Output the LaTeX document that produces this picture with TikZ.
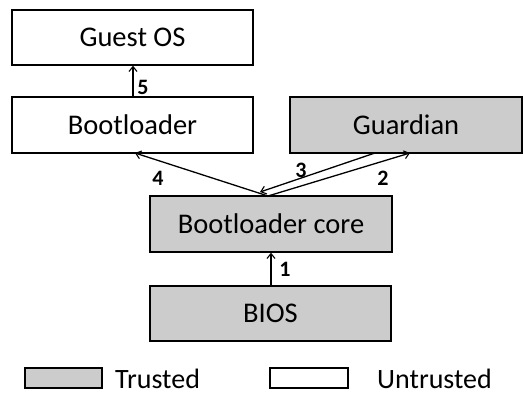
\documentclass[tikz,border=0pt]{standalone}
\usepackage{fontspec}
\setmainfont{Carlito}
\usetikzlibrary{arrows.meta}
\definecolor{trustgray}{HTML}{CCCCCC}
\begin{document}
\begin{tikzpicture}[x=1pt,y=-1pt,
  box/.style={draw=black,line width=1.3pt,minimum height=55pt,inner sep=0pt,
    font=\fontsize{28.5}{31}\selectfont},
  trusted/.style={box,fill=trustgray},
  untrusted/.style={box,fill=white},
  flow/.style={line width=1.3pt,-{Straight Barb[length=5pt,width=8pt,line width=1.1pt]}},
  num/.style={font=\fontsize{22}{24}\selectfont\bfseries,inner sep=0pt},
  legendtext/.style={font=\fontsize{28}{30}\selectfont,inner sep=0pt,
    text depth=0pt,anchor=base west}]
\useasboundingbox (0,0) rectangle (524,394);

% components
\node[untrusted,minimum width=241pt] (guest) at (132.5,37.5) {Guest OS};
\node[untrusted,minimum width=241pt,minimum height=56pt] (boot) at (132.5,125) {Bootloader};
\node[trusted,minimum width=232pt,minimum height=56pt] (guard) at (406,125) {Guardian};
\node[trusted,minimum width=242pt,minimum height=56pt] (core) at (271,224) {Bootloader core};
\node[trusted,minimum width=241pt] (bios) at (270.5,313.5) {BIOS};

% anchor points for the slanted flows
\coordinate (coretop) at (268,196);
\coordinate (coretip) at (260,192);
\coordinate (bootin) at (135,153);
\coordinate (guardin) at (410,153);
\coordinate (guardout) at (375,153);

% boot sequence
\draw[flow] (bios.north -| 271,0) -- (core.south -| 271,0);
\node[num] (n1) at (285,269) {1};
\draw[flow] (coretop) -- (guardin);
\node[num] (n2) at (383,178) {2};
\draw[flow] (guardout) -- (coretip);
\node[num] (n3) at (301,170) {3};
\draw[flow] (coretop) -- (bootin);
\node[num] (n4) at (158,178) {4};
\draw[flow] (boot.north -| 133,0) -- (guest.south -| 133,0);
\node[num] (n5) at (143,87) {5};

% legend
\node[trusted,minimum width=77pt,minimum height=20pt] (keyT) at (63.5,378) {};
\node[legendtext] (labT) at (115,388) {Trusted};
\node[untrusted,minimum width=78pt,minimum height=20pt] (keyU) at (309,378) {};
\node[legendtext] (labU) at (377,388) {Untrusted};
\end{tikzpicture}
\end{document}
